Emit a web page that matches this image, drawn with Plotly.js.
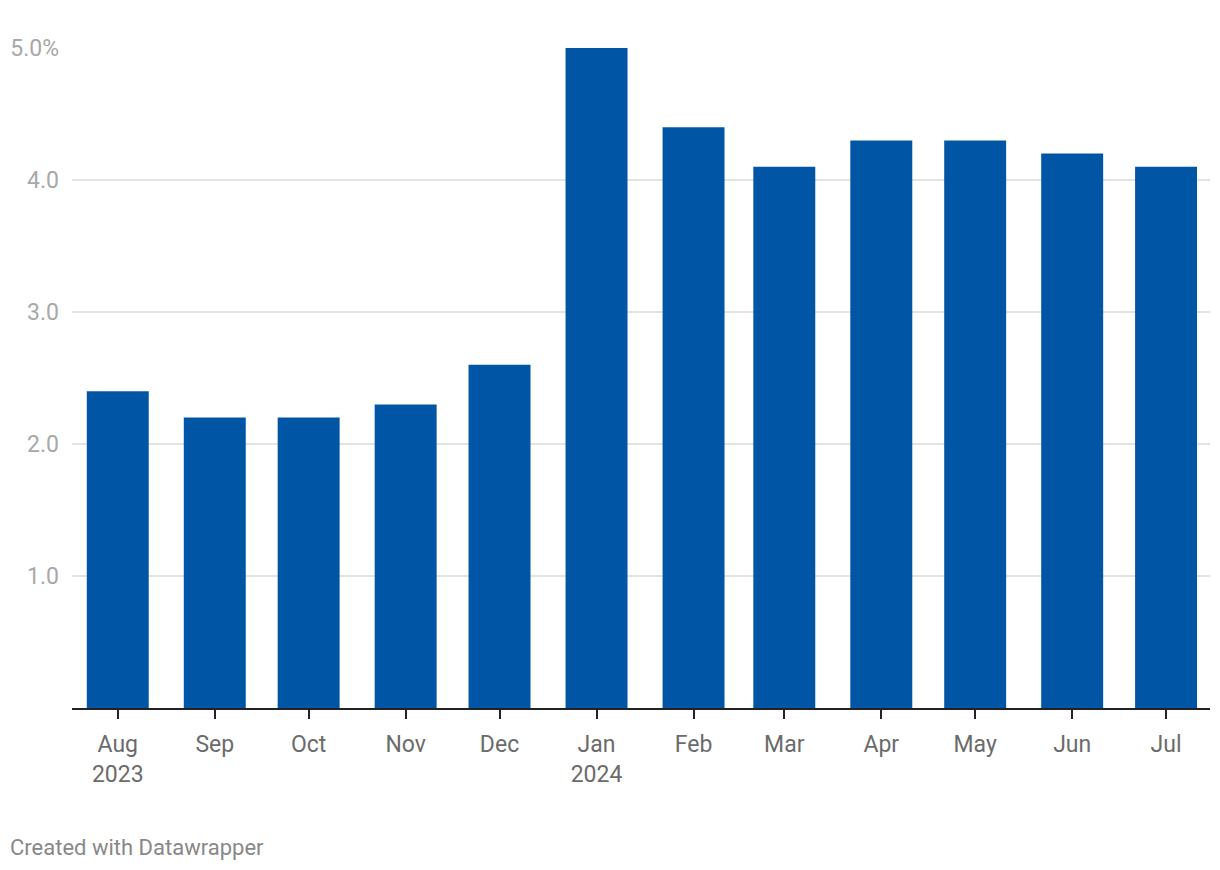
<!DOCTYPE html>
<html>
<head>
<meta charset="utf-8">
<script src="https://cdn.plot.ly/plotly-3.0.1.min.js"></script>
<style>html,body{margin:0;padding:0;background:#fff;}#chart{width:1220px;height:870px;}</style>
</head>
<body>
<div id="chart"></div>
<script>
const months = ['2023-08-01','2023-09-01','2023-10-01','2023-11-01','2023-12-01','2024-01-01','2024-02-01','2024-03-01','2024-04-01','2024-05-01','2024-06-01','2024-07-01'];
const monthLabels = ['Aug<br>2023','Sep','Oct','Nov','Dec','Jan<br>2024','Feb','Mar','Apr','May','Jun','Jul'];
const values = [2.4, 2.2, 2.2, 2.3, 2.6, 5.0, 4.4, 4.1, 4.3, 4.3, 4.2, 4.1];
const yTickVals = [1, 2, 3, 4, 5];
const yTickText = ['1.0', '2.0', '3.0', '4.0', '5.0%'];

const W = 1220, H = 870;
const L = 72, R = 10, T = 48, B = 162;
const plotW = W - L - R, plotH = H - T - B;

const trace = {
  type: 'bar',
  x: months,
  y: values,
  width: 19.8 * 86400000,
  marker: {color: '#0056a4', line: {width: 0}},
  hoverinfo: 'x+y'
};

const layout = {
  width: W, height: H,
  margin: {l: L, r: R, t: T, b: B, pad: 0},
  paper_bgcolor: '#fff', plot_bgcolor: '#fff',
  font: {family: 'Roboto, sans-serif'},
  showlegend: false,
  xaxis: {
    type: 'date',
    range: ['2023-07-17 09:00', '2024-07-15 01:00'],
    tickvals: months,
    ticktext: monthLabels,
    ticks: 'outside', ticklen: 9, tickwidth: 2, tickcolor: '#222',
    ticklabelstandoff: 5,
    showline: true, linecolor: '#222', linewidth: 2,
    showgrid: false, zeroline: false,
    tickfont: {size: 23, color: '#6b6b6b'},
    fixedrange: true
  },
  yaxis: {
    range: [0, 5],
    tickvals: yTickVals,
    ticktext: yTickText,
    ticks: '',
    ticklabelstandoff: 12,
    showgrid: true, gridcolor: '#e3e3e3', gridwidth: 1.5,
    zeroline: false, showline: false,
    tickfont: {size: 23, color: '#a8a8a8'},
    fixedrange: true
  },
  annotations: [{
    text: 'Created with Datawrapper',
    xref: 'paper', yref: 'paper',
    x: (8 - L) / plotW, y: (H - B - 847) / plotH,
    xanchor: 'left', yanchor: 'middle',
    showarrow: false,
    font: {size: 22, color: '#888'}
  }]
};

Plotly.newPlot('chart', [trace], layout, {displayModeBar: false, staticPlot: true});
</script>
</body>
</html>
